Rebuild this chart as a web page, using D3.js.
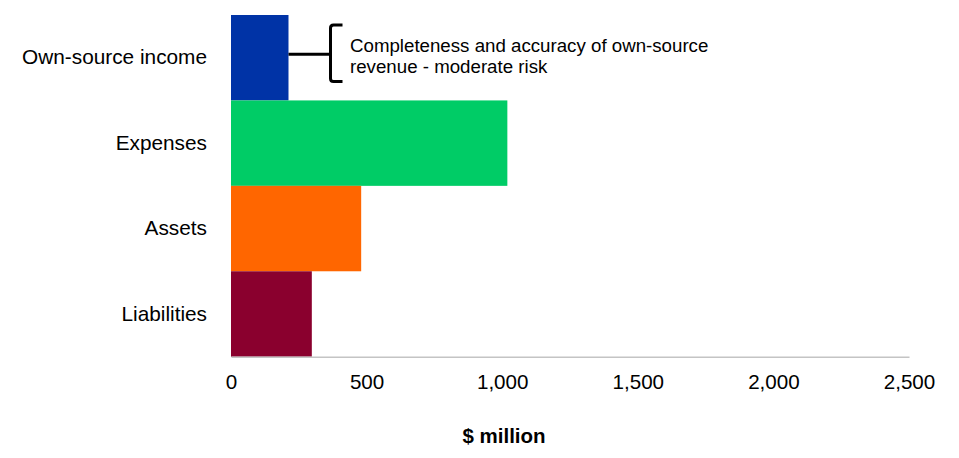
<!DOCTYPE html>
<html>
<head>
<meta charset="utf-8">
<script src="https://cdn.jsdelivr.net/npm/d3@7"></script>
<style>
  body { margin: 0; background: #fff; }
  text { font-family: "Liberation Sans", Arial, sans-serif; fill: #000; }
</style>
</head>
<body>
<div id="chart"></div>
<script>
'use strict';

  // values in $ million
  const categories = ["Own-source income", "Expenses", "Assets", "Liabilities"];
  const values = [212, 1019, 480, 298];
  const barColours = ["#0033a6", "#00cc66", "#ff6600", "#8a002e"];
  const xTicks = [0, 500, 1000, 1500, 2000, 2500];
  const noteLines = ["Completeness and accuracy of own-source", "revenue - moderate risk"];
  const axisTitle = "$ million";

  const msm = {
    width: 959,
    height: 458,
    left: 231,
    right: 909,
    top: 15,
    bottom: 356.7
  };

  const svg = d3.select('#chart')
    .append('svg')
    .attr('width', msm.width)
    .attr('height', msm.height);

  const xScale = d3.scaleLinear()
    .domain([0, 2500])
    .range([msm.left, msm.right]);

  const yScale = d3.scaleBand()
    .domain(categories)
    .range([msm.top, msm.bottom])
    .padding(0);

  // bars
  svg.selectAll('.bar')
    .data(categories)
    .enter()
    .append('rect')
      .attr('class', 'bar')
      .attr('x', xScale(0))
      .attr('y', (d) => yScale(d))
      .attr('width', (d, i) => xScale(values[i]) - xScale(0))
      .attr('height', yScale.bandwidth())
      .attr('fill', (d, i) => barColours[i]);

  // x axis
  const xAxis = svg.append('g')
    .attr('transform', 'translate(0,' + msm.bottom + ')')
    .call(d3.axisBottom(xScale)
      .tickValues(xTicks)
      .tickFormat(d3.format(','))
      .tickSize(0)
      .tickPadding(17.5));
  xAxis.select('.domain')
    .attr('stroke', '#c4c4c4')
    .attr('stroke-width', 1.5);
  xAxis.selectAll('text')
    .style('font-size', '20.6px')
    .attr('fill', '#000');

  // category labels
  const yAxis = svg.append('g')
    .attr('transform', 'translate(' + msm.left + ',0)')
    .call(d3.axisLeft(yScale).tickSize(0).tickPadding(24));
  yAxis.select('.domain').remove();
  yAxis.selectAll('text')
    .style('font-size', '20.8px')
    .attr('fill', '#000');

  // axis title
  svg.append('text')
    .attr('x', 504)
    .attr('y', 443)
    .attr('text-anchor', 'middle')
    .style('font-size', '20.5px')
    .style('font-weight', 'bold')
    .text(axisTitle);

  // annotation bracket on own-source income
  const yMid = yScale(categories[0]) + yScale.bandwidth() / 2 - 3.5;
  const barEnd = xScale(values[0]);
  const bx = 330.5;
  const bTop = 25, bBot = 81.5, r = 3;
  svg.append('path')
    .attr('d', 'M' + barEnd + ',' + yMid + 'H' + bx)
    .attr('stroke', '#000')
    .attr('stroke-width', 3)
    .attr('fill', 'none');
  svg.append('path')
    .attr('d', 'M342.5,' + bTop + 'H' + (bx + r) +
      'Q' + bx + ',' + bTop + ' ' + bx + ',' + (bTop + r) +
      'V' + (bBot - r) +
      'Q' + bx + ',' + bBot + ' ' + (bx + r) + ',' + bBot + 'H342.5')
    .attr('stroke', '#000')
    .attr('stroke-width', 3)
    .attr('fill', 'none');

  svg.selectAll('.note')
    .data(noteLines)
    .enter()
    .append('text')
      .attr('class', 'note')
      .attr('x', 350)
      .attr('y', (d, i) => 52 + i * 21)
      .style('font-size', '18.7px')
      .text((d) => d);
</script>
</body>
</html>
